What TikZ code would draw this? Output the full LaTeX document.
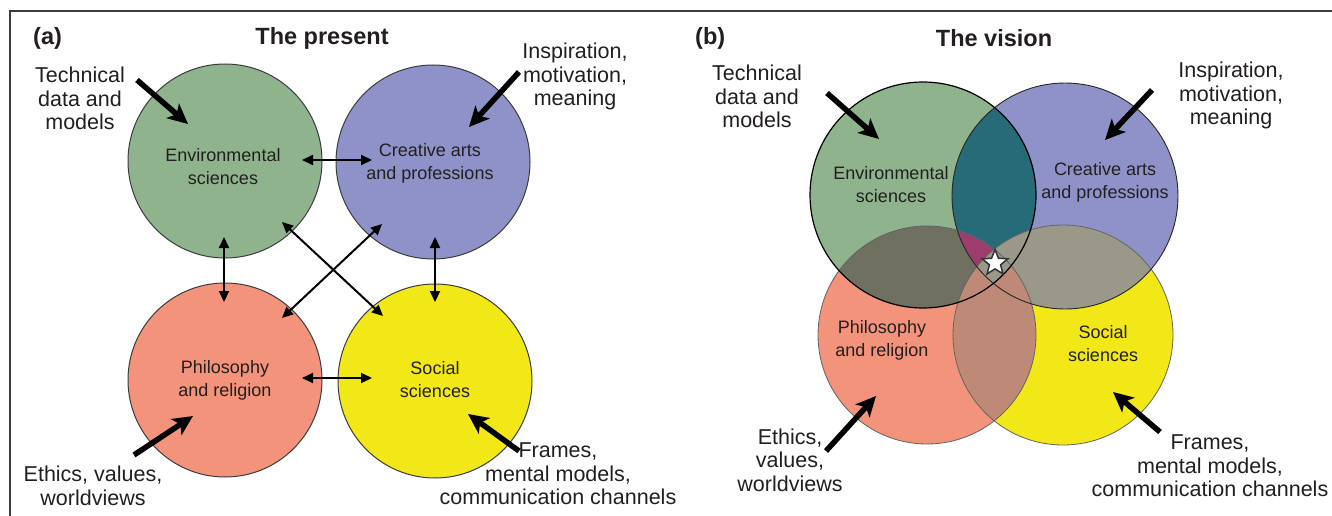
\documentclass[tikz,border=0pt]{standalone}
\usepackage{fontspec}
\setmainfont{Liberation Sans}
\usetikzlibrary{arrows.meta,shapes.geometric}
\definecolor{cG}{RGB}{143,179,141}
\definecolor{cB}{RGB}{143,146,201}
\definecolor{cP}{RGB}{243,147,123}
\definecolor{cY}{RGB}{242,232,24}
\definecolor{cGB}{RGB}{39,107,120}
\definecolor{cGP}{RGB}{111,112,95}
\definecolor{cBY}{RGB}{153,152,137}
\definecolor{cPY}{RGB}{190,138,119}
\definecolor{cGBP}{RGB}{157,61,107}
\definecolor{txt}{RGB}{35,31,32}
\definecolor{edge}{RGB}{60,60,60}
\begin{document}
\begin{tikzpicture}[x=1pt,y=-1pt,
  lbl/.style={font=\fontsize{21.5}{23.5}\selectfont, align=center, text=txt, inner sep=0},
  ctext/.style={font=\fontsize{18}{23}\selectfont, align=center, text=txt, inner sep=0},
  ttl/.style={font=\fontsize{23.5}{26}\selectfont\bfseries, text=txt, inner sep=0},
  acirc/.style={circle, draw=edge, line width=1, minimum size=194pt, inner sep=0},
  bigarrow/.style={line width=5.5, draw=black, -{Stealth[length=20pt, width=19pt, inset=5pt]}},
  dblarrow/.style={line width=2, draw=black, {Triangle[length=11pt,width=10pt]}-{Triangle[length=11pt,width=10pt]}},
  frameline/.style={draw=edge, line width=1.3}
]
\useasboundingbox (0,0) rectangle (1332,516);
\fill[white] (0,0) rectangle (1332,516);
% frame
\coordinate (fTL) at (10,11);
\coordinate (fTR) at (1332,11);
\coordinate (fBL) at (10,516);
\draw[frameline] (fTR) -- (fTL) -- (fBL);

% ---------------- panel (a) ----------------
\node[ttl, anchor=west] (la) at (33,38) {(a)};
\node[ttl] (tpresent) at (322,38) {The present};

\node[acirc, fill=cG] (envA) at (225,161) {};
\node[acirc, fill=cB] (creA) at (433,162) {};
\node[acirc, fill=cP] (phiA) at (225,380) {};
\node[acirc, fill=cY] (socA) at (435,381) {};

\node[ctext] (envAt) at (223,166.5) {Environmental\\sciences};
\node[ctext] (creAt) at (430,163.5) {Creative arts\\and professions};
\node[ctext] (phiAt) at (225,380) {Philosophy\\and religion};
\node[ctext] (socAt) at (435,380) {Social\\sciences};

% connectors between circles
\coordinate (a1s) at (224,237); \coordinate (a1e) at (224,302);
\coordinate (a2s) at (435,237); \coordinate (a2e) at (435,302);
\coordinate (a3s) at (302,160); \coordinate (a3e) at (372,160);
\coordinate (a4s) at (302,378); \coordinate (a4e) at (372,378);
\coordinate (a5s) at (282,222); \coordinate (a5e) at (383,316);
\coordinate (a6s) at (382,224); \coordinate (a6e) at (282,318);
\draw[dblarrow] (a1s) -- (a1e);
\draw[dblarrow] (a2s) -- (a2e);
\draw[dblarrow] (a3s) -- (a3e);
\draw[dblarrow] (a4s) -- (a4e);
\draw[dblarrow] (a5s) -- (a5e);
\draw[dblarrow] (a6s) -- (a6e);

% labels and arrows
\node[lbl] (techA) at (80,98.5) {Technical\\data and\\models};
\node[lbl] (inspA) at (575,76.5) {Inspiration,\\motivation,\\meaning};
\node[lbl] (ethA) at (93,486) {Ethics, values,\\worldviews};
\node[lbl] (frA) at (558,474) {Frames,\\mental models,\\communication channels};
\coordinate (techAs) at (137,80);  \coordinate (techAe) at (188,124);
\coordinate (inspAs) at (519,72);  \coordinate (inspAe) at (469,127);
\coordinate (ethAs) at (134,455);  \coordinate (ethAe) at (193,416);
\coordinate (frAs) at (519,451);   \coordinate (frAe) at (468,414);
\draw[bigarrow] (techAs) -- (techAe);
\draw[bigarrow] (inspAs) -- (inspAe);
\draw[bigarrow] (ethAs) -- (ethAe);
\draw[bigarrow] (frAs) -- (frAe);

% ---------------- panel (b) ----------------
\node[ttl, anchor=west] (lb) at (695,38) {(b)};
\node[ttl] (tvision) at (994,38) {The vision};

\def\Gc{(923,195) circle (113)}
\def\Bc{(1065,196) circle (113)}
\def\Pc{(927,335) circle (109)}
\def\Yc{(1063,335) circle (110)}

\fill[cG] \Gc;
\fill[cB] \Bc;
\fill[cP] \Pc;
\fill[cY] \Yc;
\begin{scope}\clip \Gc; \fill[cGP] \Pc; \end{scope}
\begin{scope}\clip \Bc; \fill[cBY] \Yc; \end{scope}
\begin{scope}\clip \Pc; \fill[cPY] \Yc; \end{scope}
\begin{scope}\clip \Gc; \fill[cGB] \Bc; \end{scope}
\begin{scope}\clip \Gc; \clip \Bc; \fill[cGBP] \Pc; \end{scope}
\begin{scope}\clip \Gc; \clip \Yc; \fill[cBY] \Bc; \end{scope}
\draw[edge!80, line width=0.8] \Yc;
\draw[edge!80, line width=0.8] \Pc;
\draw[black!85, line width=0.9] \Bc;
\draw[black, line width=1.2] \Gc;

\node[star, star points=5, star point ratio=2.3, minimum size=27pt, inner sep=0,
      fill=white, draw=black!80, line width=1.5] (starB) at (995,263) {};

\node[ctext] (envBt) at (891,185) {Environmental\\sciences};
\node[ctext] (creBt) at (1105,182) {Creative arts\\and professions};
\node[ctext] (phiBt) at (882,340) {Philosophy\\and religion};
\node[ctext] (socBt) at (1103,344) {Social\\sciences};

\node[lbl] (techB) at (757,96.5) {Technical\\data and\\models};
\node[lbl] (inspB) at (1231,95.5) {Inspiration,\\motivation,\\meaning};
\node[lbl] (ethB) at (790,460) {Ethics,\\values,\\worldviews};
\node[lbl] (frB) at (1210,466) {Frames,\\mental models,\\communication channels};
\coordinate (techBs) at (827,93);   \coordinate (techBe) at (879,139);
\coordinate (inspBs) at (1152,90);  \coordinate (inspBe) at (1105,140);
\coordinate (ethBs) at (826,451);   \coordinate (ethBe) at (876,396);
\coordinate (frBs) at (1160,432);   \coordinate (frBe) at (1113,392);
\draw[bigarrow] (techBs) -- (techBe);
\draw[bigarrow] (inspBs) -- (inspBe);
\draw[bigarrow] (ethBs) -- (ethBe);
\draw[bigarrow] (frBs) -- (frBe);
\end{tikzpicture}
\end{document}
